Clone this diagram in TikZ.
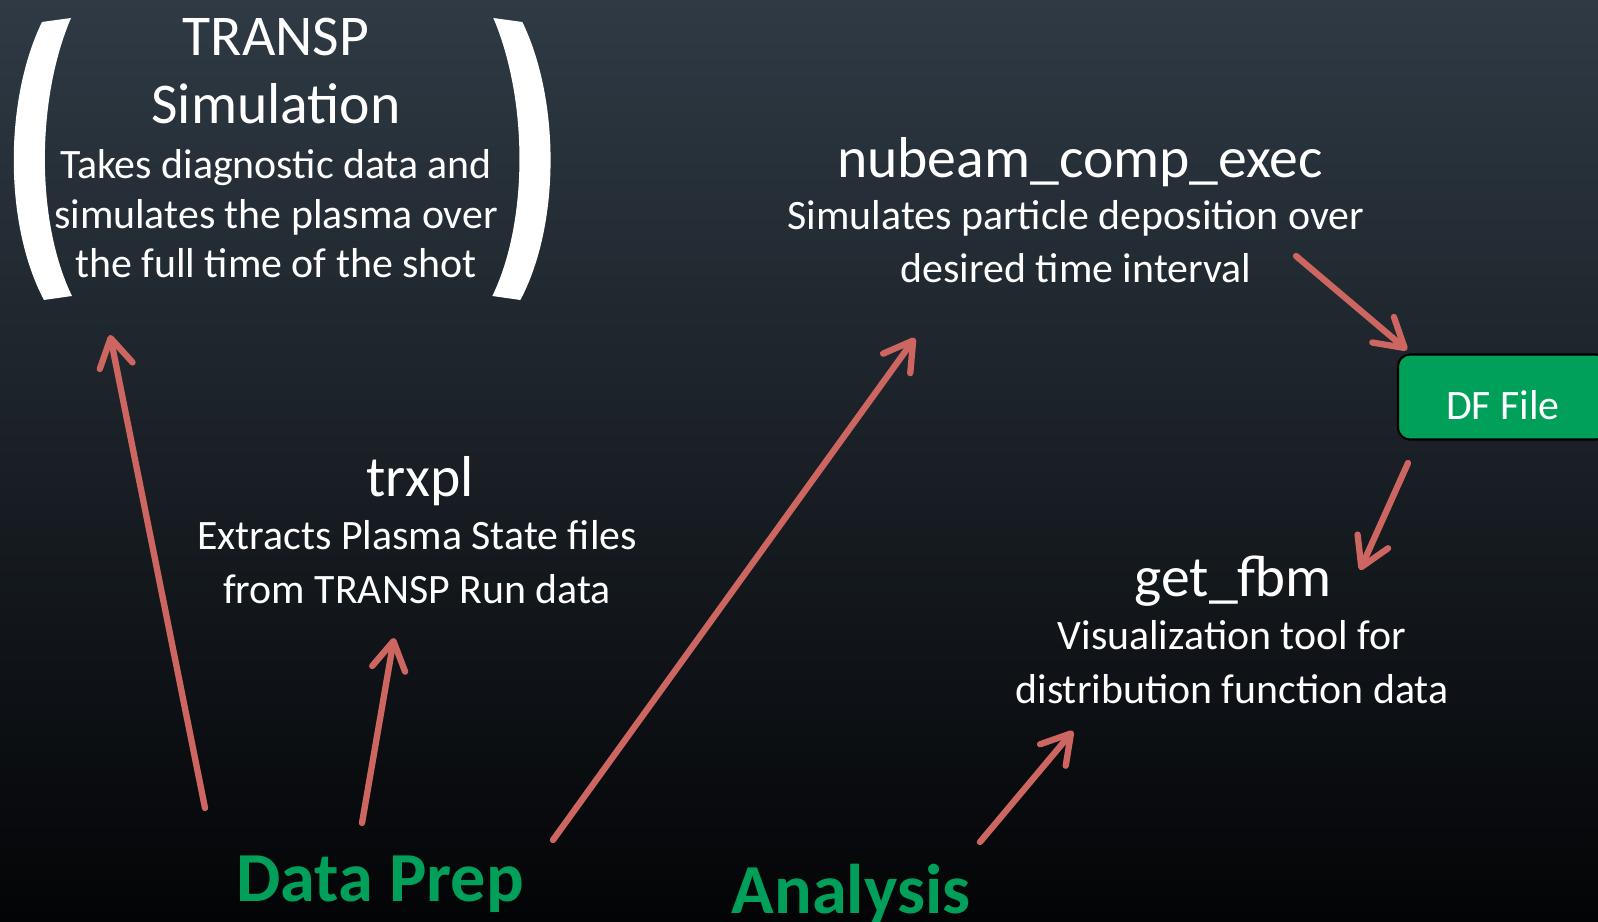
\documentclass[tikz,border=0pt]{standalone}
\usepackage{fontspec}
\setmainfont{Carlito}
\usetikzlibrary{arrows.meta}
\definecolor{bgtop}{RGB}{47,58,68}
\definecolor{bgbot}{RGB}{3,4,6}
\definecolor{arrowred}{RGB}{205,102,96}
\definecolor{prepgreen}{RGB}{0,160,90}
\begin{document}
\begin{tikzpicture}[x=0.01cm, y=-0.01cm,
  title/.style={text=white, align=center, inner sep=0pt, anchor=base, font=\fontsize{16.4}{19.4}\selectfont},
  desc/.style={text=white, align=center, inner sep=0pt, anchor=base, font=\fontsize{11.9}{15.1}\selectfont},
  group/.style={text=prepgreen, inner sep=0pt, anchor=base, font=\fontsize{20}{24}\selectfont\bfseries},
  filebox/.style={fill=prepgreen, draw=black, line width=0.6pt, rounded corners=3.4pt, text=white,
    minimum width=2.1cm, minimum height=0.85cm, text height=0.45cm, text depth=0pt,
    font=\fontsize{11.9}{14}\selectfont},
  flow/.style={draw=arrowred, line width=1.8pt, line cap=round},
  >={Straight Barb[length=8pt, width=9.5pt, round]}]
\useasboundingbox (0,0) rectangle (1598,922);
\shade[top color=bgtop, bottom color=bgbot] (0,0) rectangle (1598,922);
\clip (0,0) rectangle (1598,922);
% brackets round the simulation
\fill[white, line join=round] (42,22) .. controls (4,100) and (4,225) .. (44,300) -- (72,296)
  .. controls (36,222) and (36,100) .. (71,18) -- cycle;
\begin{scope}[xshift=5.64cm, xscale=-1]
\fill[white, line join=round] (42,22) .. controls (4,100) and (4,225) .. (44,300) -- (72,296)
  .. controls (36,222) and (36,100) .. (71,18) -- cycle;
\end{scope}
% base = baseline of the last line
\node[title] (transp) at (276,124) {TRANSP\\Simulation};
\node[desc, font=\fontsize{11.9}{14.2}\selectfont] (transpdesc) at (276,278) {Takes diagnostic data and\\simulates the plasma over\\the full time of the shot};
\node[title] (nubeam) at (1080,178) {nubeam\_comp\_exec};
\node[desc] (nubeamdesc) at (1076,283) {Simulates particle deposition over\\desired time interval};
\node[title] (trxpl) at (420,496) {trxpl};
\node[desc] (trxpldesc) at (417,603) {Extracts Plasma State files\\from TRANSP Run data};
\node[title] (getfbm) at (1233,596) {get\_fbm};
\node[desc] (getfbmdesc) at (1232,703) {Visualization tool for\\distribution function data};
\node[filebox] (dffile) at (1503,397) {DF File};
\node[group] (prep) at (380,901) {Data Prep};
\node[group] (analysis) at (851,913) {Analysis};
% arrow ends
\coordinate (prep1) at (205,808);
\coordinate (prep2) at (362,823);
\coordinate (prep3) at (553,840);
\coordinate (ana1) at (980,842);
\coordinate (nub1) at (1296,256);
\coordinate (df1) at (1408,463);
\coordinate (totransp) at (110,335);
\coordinate (totrxpl) at (394,638);
\coordinate (tonubeam) at (915,338);
\coordinate (tofbm) at (1073,731);
\coordinate (todf) at (1407,350);
\coordinate (tofbm2) at (1360,570);
\draw[flow, ->] (prep1) -- (totransp);
\draw[flow, ->] (prep2) -- (totrxpl);
\draw[flow, ->] (prep3) -- (tonubeam);
\draw[flow, ->] (ana1) -- (tofbm);
\draw[flow, ->] (nub1) -- (todf);
\draw[flow, ->] (df1) -- (tofbm2);
\end{tikzpicture}
\end{document}
